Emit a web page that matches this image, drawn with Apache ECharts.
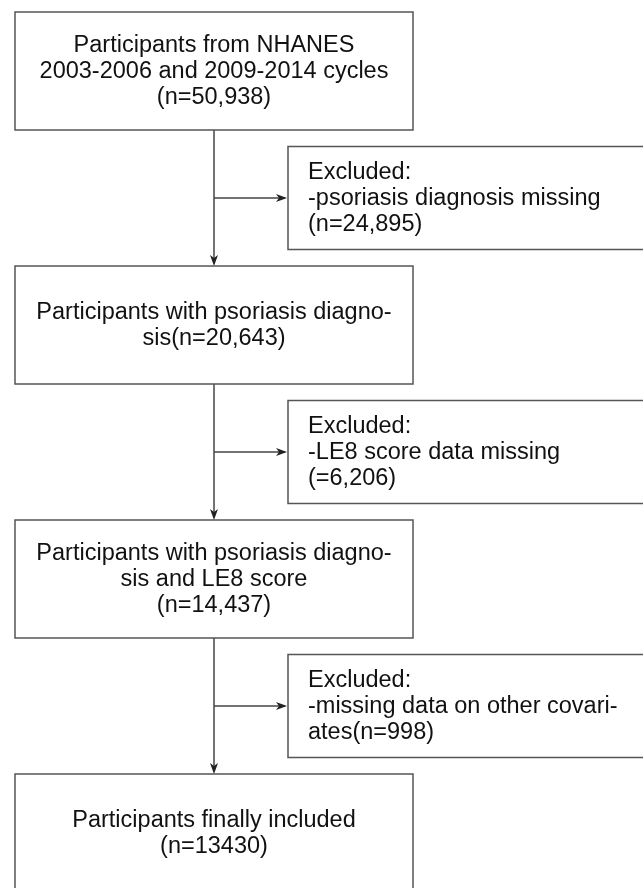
<!DOCTYPE html>
<html>
<head>
<meta charset="utf-8">
<script src="https://cdn.jsdelivr.net/npm/echarts@6/dist/echarts.min.js"></script>
<style>
  html, body { margin: 0; padding: 0; background: #ffffff; }
  #chart { width: 643px; height: 888px; }
</style>
</head>
<body>
<div id="chart"></div>
<script>
// ---- Data ----
const mainSteps = [
  "Participants from NHANES\n2003-2006 and 2009-2014 cycles\n(n=50,938)",
  "Participants with psoriasis diagno-\nsis(n=20,643)",
  "Participants with psoriasis diagno-\nsis and LE8 score\n(n=14,437)",
  "Participants finally included\n(n=13430)"
];
const mainRows = [0, 2, 4, 6];
const excludedSteps = [
  "Excluded:\n-psoriasis diagnosis missing\n(n=24,895)",
  "Excluded:\n-LE8 score data missing\n(=6,206)",
  "Excluded:\n-missing data on other covari-\nates(n=998)"
];
const excludedRows = [1, 3, 5];

// ---- Styles ----
const FONT = "'Liberation Sans', Arial, sans-serif";
const FONT_SIZE = 23.5, LINE_H = 26;
const MAIN_W = 398, MAIN_H = 118;
const EXC_W = 420, EXC_H = 103;
const BOX_STROKE = '#555555';
const LINE_COLOR = '#444444';

const chart = echarts.init(document.getElementById('chart'), null, { renderer: 'canvas' });

function arrowHead(x, y, dir) {
  if (dir === 'down') {
    return [[x, y], [x - 4, y - 11], [x, y - 8], [x + 4, y - 11]];
  }
  return [[x, y], [x - 11, y - 4], [x - 8, y], [x - 11, y + 4]];
}

const mainData = mainSteps.map((t, i) => [0, mainRows[i]]);
const excData = excludedSteps.map((t, i) => [1, excludedRows[i]]);
const linkData = excludedRows.map((r, i) => [0, r, mainRows[i], mainRows[i + 1]]);

chart.setOption({
  animation: false,
  backgroundColor: '#ffffff',
  grid: { left: 214, right: 355, top: 71, bottom: 55 },
  xAxis: { type: 'value', min: 0, max: 1, show: false },
  yAxis: { type: 'value', min: 0, max: 6, inverse: true, show: false },
  series: [
    {
      type: 'custom',
      name: 'links',
      data: linkData,
      renderItem: function (params, api) {
        const top = api.coord([0, api.value(2)]);
        const bot = api.coord([0, api.value(3)]);
        const mid = api.coord([0, api.value(1)]);
        const excLeft = api.coord([1, api.value(1)]);
        const x = top[0];
        const y1 = top[1] + MAIN_H / 2;
        const y2 = bot[1] - MAIN_H / 2;
        const ym = mid[1];
        return {
          type: 'group',
          children: [
            { type: 'line', shape: { x1: x, y1: y1, x2: x, y2: y2 - 3 },
              style: { stroke: LINE_COLOR, lineWidth: 1.5 } },
            { type: 'polygon', shape: { points: arrowHead(x, y2, 'down') },
              style: { fill: '#222222' } },
            { type: 'line', shape: { x1: x, y1: ym, x2: excLeft[0] - 3, y2: ym },
              style: { stroke: LINE_COLOR, lineWidth: 1.5 } },
            { type: 'polygon', shape: { points: arrowHead(excLeft[0] - 1, ym, 'right') },
              style: { fill: '#222222' } }
          ]
        };
      }
    },
    {
      type: 'custom',
      name: 'main',
      data: mainData,
      renderItem: function (params, api) {
        const c = api.coord([api.value(0), api.value(1)]);
        const t = mainSteps[params.dataIndex];
        return {
          type: 'group',
          children: [
            { type: 'rect',
              shape: { x: c[0] - MAIN_W / 2, y: c[1] - MAIN_H / 2, width: MAIN_W, height: MAIN_H },
              style: { fill: '#ffffff', stroke: BOX_STROKE, lineWidth: 1.5 } },
            { type: 'text',
              style: { x: c[0], y: c[1] + 1, text: t, align: 'center', verticalAlign: 'middle',
                       font: FONT_SIZE + 'px ' + FONT, lineHeight: LINE_H, fill: '#111111' } }
          ]
        };
      }
    },
    {
      type: 'custom',
      name: 'excluded',
      data: excData,
      renderItem: function (params, api) {
        const c = api.coord([api.value(0), api.value(1)]);
        const t = excludedSteps[params.dataIndex];
        return {
          type: 'group',
          children: [
            { type: 'rect',
              shape: { x: c[0], y: c[1] - EXC_H / 2, width: EXC_W, height: EXC_H },
              style: { fill: '#ffffff', stroke: BOX_STROKE, lineWidth: 1.5 } },
            { type: 'text',
              style: { x: c[0] + 20, y: c[1] + 1, text: t, align: 'left', verticalAlign: 'middle',
                       font: FONT_SIZE + 'px ' + FONT, lineHeight: LINE_H, fill: '#111111' } }
          ]
        };
      }
    }
  ]
});
</script>
</body>
</html>
